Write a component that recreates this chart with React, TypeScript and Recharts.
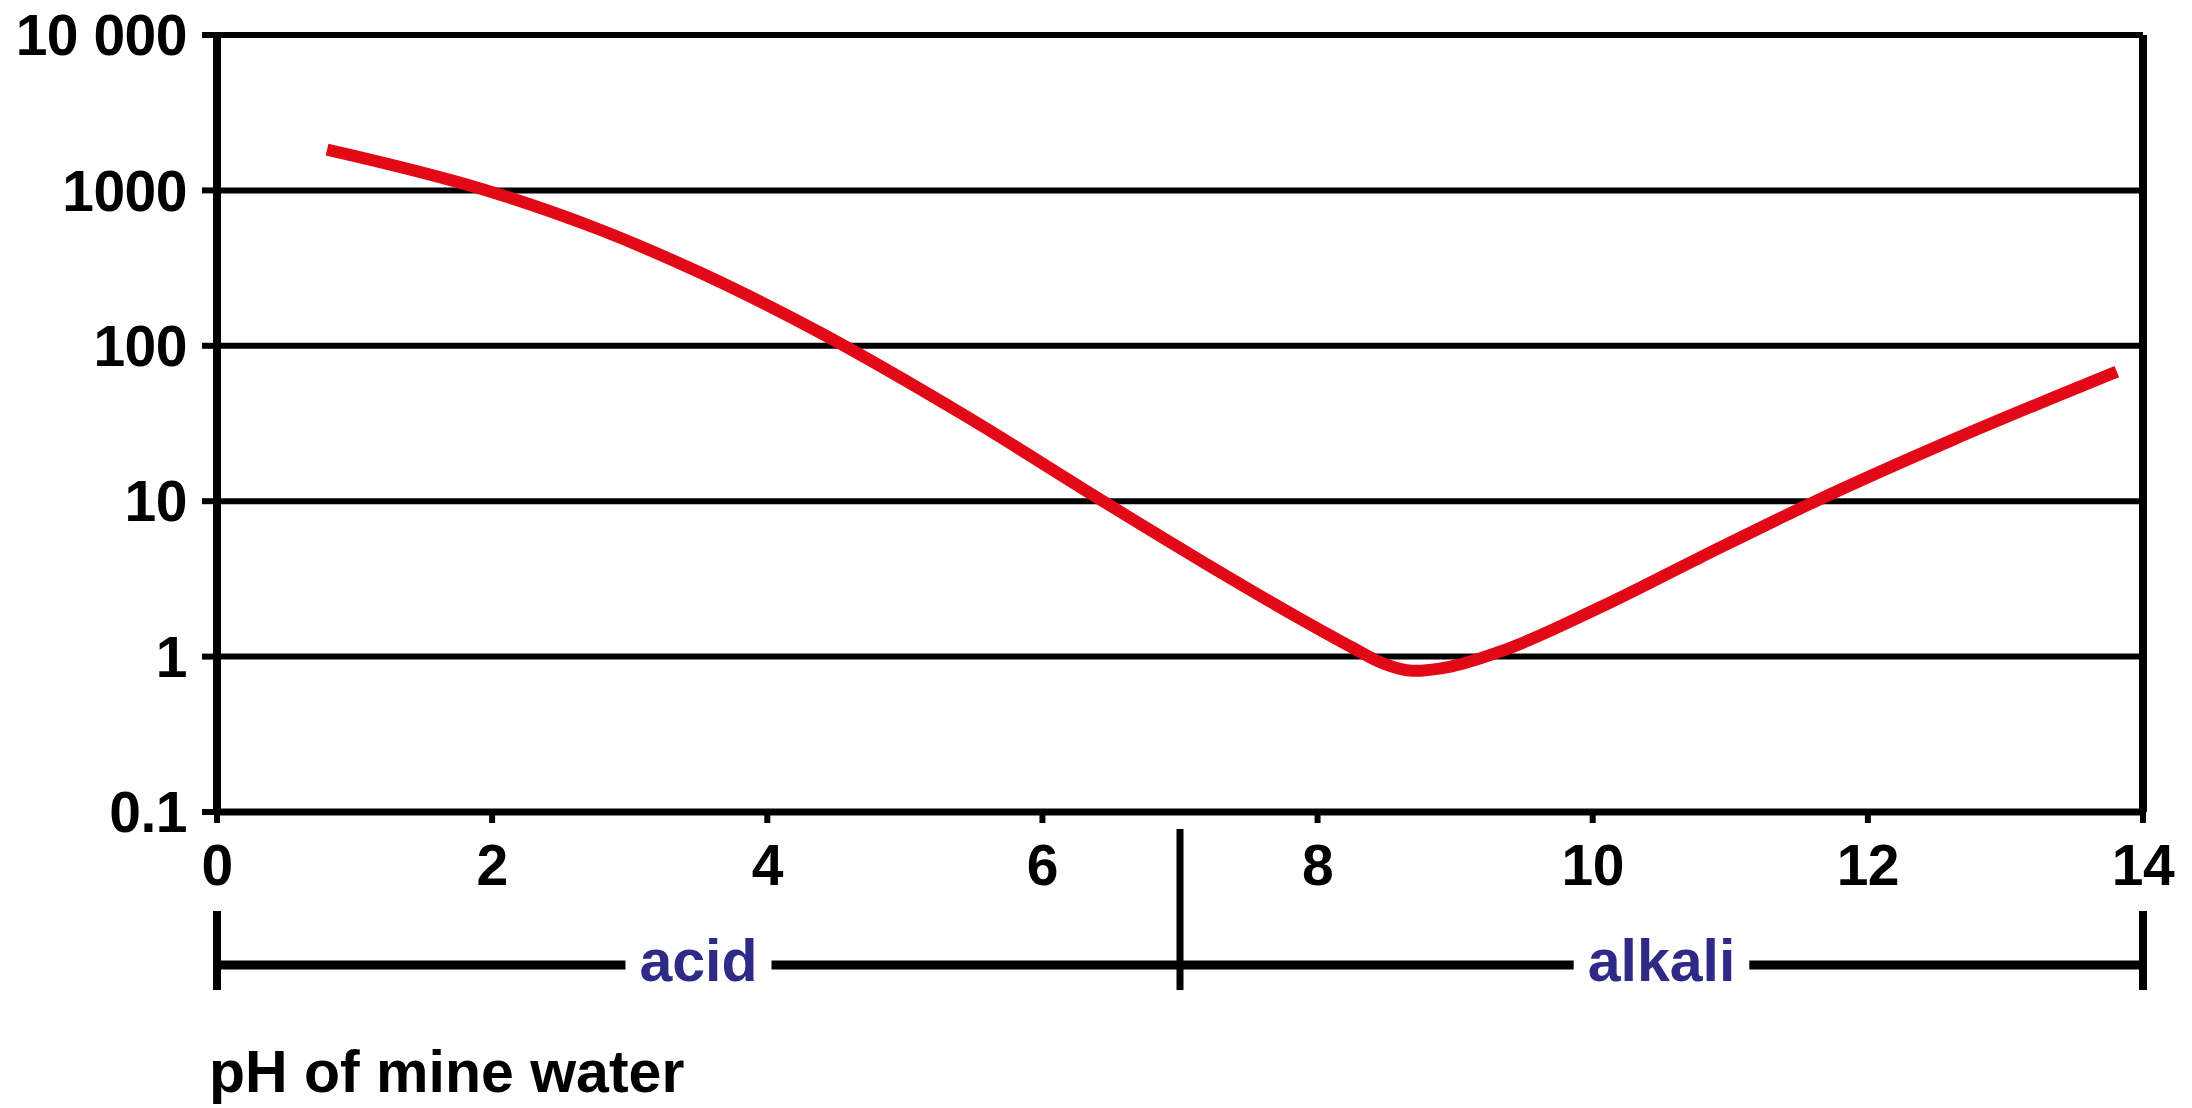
import React from 'react'
import {
  LineChart,
  Line,
  XAxis,
  YAxis,
  CartesianGrid,
  ReferenceLine,
} from 'recharts'

// curve (pH vs value, log axis)
const PH = [0.8, 1.96, 2.78, 3.51, 4.38, 5.45, 6.44, 7.15, 7.87, 8.24, 8.48, 8.69, 8.96, 9.33, 10.05, 10.78, 11.62, 12.62, 13.81]
const VALUES = [1832, 1000, 560, 296, 122, 35.0, 10, 4.15, 1.76, 1.16, 0.9, 0.81, 0.86, 1.08, 2.07, 4.34, 10, 24.9, 68.2]

const X_TICKS = [0, 2, 4, 6, 8, 10, 12, 14]
const Y_TICKS = [0.1, 1, 10, 100, 1000, 10000]

const RANGES = [
  { label: 'acid', from: 0, to: 7 },
  { label: 'alkali', from: 7, to: 14 },
]
const X_TITLE = 'pH of mine water'

const data = PH.map((ph, i) => ({ ph, value: VALUES[i] }))

// layout
const W = 2192
const H = 1108
const PLOT_LEFT = 217
const PLOT_RIGHT = 2143
const PLOT_TOP = 35
const PLOT_BOTTOM = 812
const Y_AXIS_W = 200
const X_AXIS_H = 60

const FONT = "'Liberation Sans', Arial, sans-serif"
const TICK_SIZE = 57
const LABEL_SIZE = 59
const RED = '#e30815'
const BLUE = '#2f2a85'

const xOf = (ph: number) => PLOT_LEFT + (ph / 14) * (PLOT_RIGHT - PLOT_LEFT)

function textWidth(s: string) {
  const ctx = document.createElement('canvas').getContext('2d')
  if (!ctx) return s.length * LABEL_SIZE * 0.5
  ctx.font = `bold ${LABEL_SIZE}px ${FONT}`
  return ctx.measureText(s).width
}

const fmtY = (v: number) => (v === 10000 ? '10 000' : String(v))

function Bracket() {
  const lineY = 965
  const pad = 14
  return (
    <svg
      width={W}
      height={H}
      style={{ position: 'absolute', left: 0, top: 0, pointerEvents: 'none' }}
    >
      {/* end ticks and acid / alkali divider */}
      <line x1={xOf(0)} x2={xOf(0)} y1={911} y2={990} stroke="#000" strokeWidth={8} />
      <line x1={xOf(14)} x2={xOf(14)} y1={911} y2={990} stroke="#000" strokeWidth={8} />
      <line x1={xOf(7)} x2={xOf(7)} y1={829} y2={990} stroke="#000" strokeWidth={7} />
      {RANGES.map((r) => {
        const cx = (xOf(r.from) + xOf(r.to)) / 2
        const half = textWidth(r.label) / 2 + pad
        return (
          <g key={r.label}>
            <line x1={xOf(r.from)} x2={cx - half} y1={lineY} y2={lineY} stroke="#000" strokeWidth={9} />
            <line x1={cx + half} x2={xOf(r.to)} y1={lineY} y2={lineY} stroke="#000" strokeWidth={9} />
            <text
              x={cx}
              y={981}
              textAnchor="middle"
              fontFamily={FONT}
              fontWeight="bold"
              fontSize={LABEL_SIZE}
              fill={BLUE}
            >
              {r.label}
            </text>
          </g>
        )
      })}
      <text x={209} y={1092} fontFamily={FONT} fontWeight="bold" fontSize={LABEL_SIZE} fill="#000">
        {X_TITLE}
      </text>
    </svg>
  )
}

export default function App() {
  const tick = { fontSize: TICK_SIZE, fontWeight: 'bold', fill: '#000', fontFamily: FONT, letterSpacing: -0.5 }
  return (
    <div style={{ position: 'absolute', left: 0, top: 0, width: W, height: H, background: '#fff' }}>
      <LineChart
        width={W}
        height={H}
        data={data}
        margin={{
          top: PLOT_TOP,
          right: W - PLOT_RIGHT,
          left: PLOT_LEFT - Y_AXIS_W,
          bottom: H - PLOT_BOTTOM - X_AXIS_H,
        }}
      >
        <CartesianGrid vertical={false} stroke="#000" strokeWidth={6} />
        <XAxis
          dataKey="ph"
          type="number"
          domain={[0, 14]}
          ticks={X_TICKS}
          height={X_AXIS_H}
          axisLine={{ stroke: '#000', strokeWidth: 7 }}
          tickLine={{ stroke: '#000', strokeWidth: 6 }}
          tickSize={11}
          tickMargin={22}
          tick={tick}
          interval={0}
        />
        <YAxis
          type="number"
          scale="log"
          domain={[0.1, 10000]}
          ticks={Y_TICKS}
          width={Y_AXIS_W}
          axisLine={{ stroke: '#000', strokeWidth: 8 }}
          tickLine={{ stroke: '#000', strokeWidth: 6 }}
          tickSize={15}
          tickMargin={15}
          tick={tick}
          tickFormatter={fmtY}
          interval={0}
          allowDataOverflow
        />
        <ReferenceLine x={14} stroke="#000" strokeWidth={8} />
        <Line
          type="monotone"
          dataKey="value"
          stroke={RED}
          strokeWidth={12}
          dot={false}
          activeDot={false}
          isAnimationActive={false}
        />
      </LineChart>
      <Bracket />
    </div>
  )
}
